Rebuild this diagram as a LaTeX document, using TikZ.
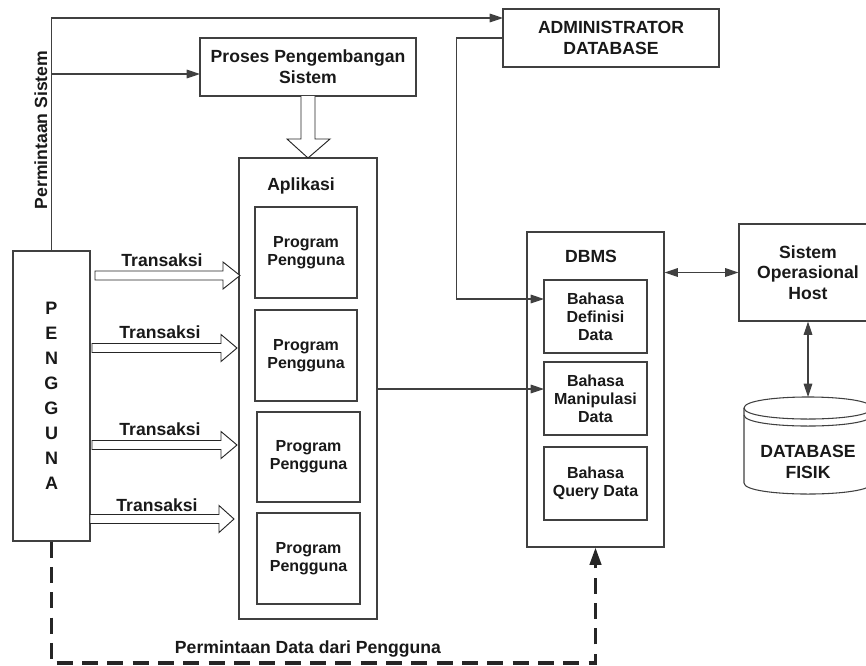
\documentclass[tikz,border=0pt]{standalone}
\usepackage{fontspec}
\setmainfont{Liberation Sans}
\usetikzlibrary{arrows.meta}

% text sizes used in the figure
\newcommand\biglbl{\fontsize{13.2}{15.5}\selectfont\bfseries}
\newcommand\smalllbl{\fontsize{12}{13.5}\selectfont\bfseries}
\newcommand\letterlbl{\fontsize{13.5}{18.7}\selectfont\bfseries}

% box node from its two corners: [style]{name}{x1}{y1}{x2}{y2}{text}
\newcommand\boxnode[7][]{%
  \node[box, #1, minimum width={(#5-#3)*0.75pt}, minimum height={(#6-#4)*0.75pt}]
    (#2) at ({(#3+#5)/2},{(#4+#6)/2}) {#7};}

% hollow block arrow: start x, shaft end x, tip x, centre y
\newcommand\hollowarrow[4]{%
  \draw[hollow] (#1,#4-4.5) -- (#2,#4-4.5) -- (#2,#4-13.5) -- (#3,#4)
    -- (#2,#4+13.5) -- (#2,#4+4.5) -- (#1,#4+4.5) -- cycle;}

\tikzset{
  box/.style={draw=black!75, line width=0.8pt, inner sep=0pt, align=center,
    text=black!90, font=\biglbl},
  smallbox/.style={font=\smalllbl},
  lbl/.style={text=black!90, font=\biglbl, inner sep=0pt},
  conn/.style={draw=black!75, line width=0.8pt},
  tip/.style={-{Triangle[length=10pt,width=6.5pt]}},
  dtip/.style={{Triangle[length=10pt,width=6.5pt]}-{Triangle[length=10pt,width=6.5pt]}},
  hollow/.style={draw=black!85, fill=white, line width=0.7pt},
  dashline/.style={draw=black!85, line width=2.4pt, dash pattern=on 12pt off 7pt,
    -{Triangle[length=13pt,width=8.5pt]}},
}

\begin{document}
\begin{tikzpicture}[x=0.75pt,y=-0.75pt]
\useasboundingbox (0,0) rectangle (866,665);
\clip (0,0) rectangle (866,665);

% main boxes
\boxnode[font=\letterlbl]{pengguna}{13}{251}{90}{541}{P\\E\\N\\G\\G\\U\\N\\A}
\boxnode{proses}{200}{38}{416}{96}{Proses Pengembangan\\Sistem}
\boxnode{admin}{503}{9}{719}{67}{ADMINISTRATOR\\DATABASE}

% application block with its user programs
\boxnode{aplikasi}{239}{158}{377}{619}{}
\node[lbl, anchor=base] (aplabel) at (301,190) {Aplikasi};
\boxnode[smallbox]{prog1}{255}{207}{357}{298}{Program\\Pengguna}
\boxnode[smallbox]{prog2}{255}{310}{357}{401}{Program\\Pengguna}
\boxnode[smallbox]{prog3}{257}{412}{360}{502}{Program\\Pengguna}
\boxnode[smallbox]{prog4}{257}{513}{360}{604}{Program\\Pengguna}

% DBMS block with its languages
\boxnode{dbms}{527}{232}{664}{547}{}
\node[lbl, anchor=base] (dbmslabel) at (591,262) {DBMS};
\boxnode[smallbox]{bdef}{544}{280}{647}{353}{Bahasa\\Definisi\\Data}
\boxnode[smallbox]{bman}{544}{362}{647}{435}{Bahasa\\Manipulasi\\Data}
\boxnode[smallbox]{bquery}{544}{447}{647}{520}{Bahasa\\Query Data}

% host operating system
\boxnode{soh}{739}{224}{877}{321}{Sistem\\Operasional\\Host}

% physical database cylinder
\draw[draw=black!75, line width=0.8pt, fill=white]
  (744,408) .. controls (744,393.3) and (872,393.3) .. (872,408)
  -- (872,483) .. controls (872,497.7) and (744,497.7) .. (744,483) -- cycle;
\draw[draw=black!75, line width=0.8pt]
  (744,408) .. controls (744,422.7) and (872,422.7) .. (872,408);
\draw[draw=black!75, line width=0.8pt]
  (744,415) .. controls (744,429.7) and (872,429.7) .. (872,415);
\node[lbl, align=center] (dbfisik) at (808,462) {DATABASE\\FISIK};
\coordinate (cyltop) at (808,397);

% request line from the user
\node[lbl, rotate=90, anchor=base] (reqsys) at (47,130) {Permintaan Sistem};
\coordinate (adminin) at (503,18);
\draw[conn, tip] (pengguna.north) |- (adminin);
\coordinate (prosesin) at (200,74);
\draw[conn, tip] (pengguna.north |- prosesin) -- (prosesin);

% development process feeds the application
\draw[hollow] (301,96) -- (301,139) -- (287,139) -- (308,158) -- (330,139)
  -- (315,139) -- (315,96);

% transactions
\hollowarrow{95}{223}{240}{275.5}
\hollowarrow{92}{221}{237}{348}
\hollowarrow{92}{221}{237}{445}
\hollowarrow{90}{219}{234}{519}
\node[lbl, anchor=base] (tr1) at (162,266) {Transaksi};
\node[lbl, anchor=base] (tr2) at (160,338) {Transaksi};
\node[lbl, anchor=base] (tr3) at (160,435) {Transaksi};
\node[lbl, anchor=base] (tr4) at (157,511) {Transaksi};

% administrator to data definition language
\coordinate (defin) at (544,299);
\draw[conn, tip] (admin.west) -- ++(-46,0) |- (defin);

% application to data manipulation language
\coordinate (manin) at (544,389);
\draw[conn, tip] (aplikasi.east |- manin) -- (manin);

% DBMS <-> host <-> physical database
\draw[conn, dtip] (dbms.east |- soh.west) -- (soh.west);
\draw[conn, dtip] (soh.south) -- (cyltop);

% user data request
\coordinate (dashbase) at (0,663);
\draw[dashline] (pengguna.south) -- (pengguna.south |- dashbase) -| (dbms.south);
\node[lbl, anchor=base] (reqdata) at (308,653) {Permintaan Data dari Pengguna};
\end{tikzpicture}
\end{document}
